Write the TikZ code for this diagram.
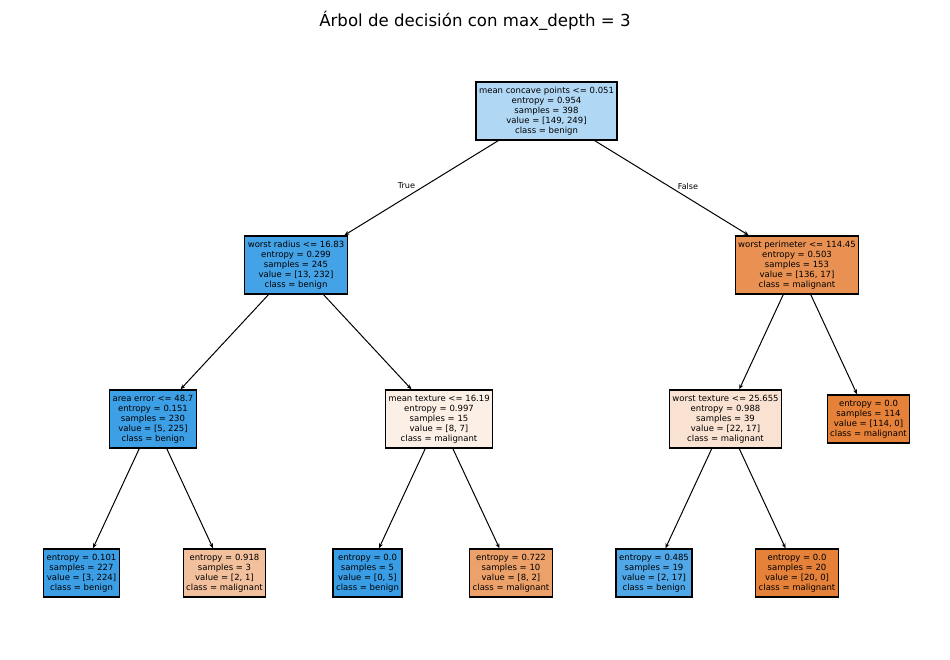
\documentclass[tikz,border=0pt]{standalone}
\usepackage{fontspec}
\setmainfont{DejaVu Sans}
\usetikzlibrary{arrows.meta}
\definecolor{c0}{RGB}{176,216,245}
\definecolor{c1}{RGB}{68,162,230}
\definecolor{c2}{RGB}{232,145,82}
\definecolor{c3}{RGB}{61,159,230}
\definecolor{c4}{RGB}{252,239,230}
\definecolor{c5}{RGB}{249,226,210}
\definecolor{c6}{RGB}{229,129,57}
\definecolor{c7}{RGB}{60,158,229}
\definecolor{c8}{RGB}{242,192,156}
\definecolor{c9}{RGB}{57,157,229}
\definecolor{c10}{RGB}{236,161,107}
\definecolor{c11}{RGB}{80,168,232}
\tikzset{
  tnode/.style={draw=black, line width=1.3pt, align=center, inner xsep=3pt, inner ysep=5pt,
    font=\fontsize{8.5}{10}\selectfont},
  edge/.style={line width=1pt, -{Stealth[length=5pt,width=4pt]}},
  elabel/.style={font=\fontsize{8.1}{10}\selectfont}
}
\begin{document}
\begin{tikzpicture}[x=1pt,y=-1pt]
\useasboundingbox (0,0) rectangle (950,660);
\node[font=\fontsize{16.6}{20}\selectfont] (title) at (475,21) {Árbol de decisión con max\_depth = 3};
\node[tnode, fill=c0] (n0) at (546.5,111) {mean concave points <= 0.051\\entropy = 0.954\\samples = 398\\value = [149, 249]\\class = benign};
\node[tnode, fill=c1] (n1) at (296,265) {worst radius <= 16.83\\entropy = 0.299\\samples = 245\\value = [13, 232]\\class = benign};
\node[tnode, fill=c2] (n2) at (797,265) {worst perimeter <= 114.45\\entropy = 0.503\\samples = 153\\value = [136, 17]\\class = malignant};
\node[tnode, fill=c3] (n3) at (153,419) {area error <= 48.7\\entropy = 0.151\\samples = 230\\value = [5, 225]\\class = benign};
\node[tnode, fill=c4] (n4) at (439,419) {mean texture <= 16.19\\entropy = 0.997\\samples = 15\\value = [8, 7]\\class = malignant};
\node[tnode, fill=c5] (n5) at (725.5,419) {worst texture <= 25.655\\entropy = 0.988\\samples = 39\\value = [22, 17]\\class = malignant};
\node[tnode, fill=c6] (n6) at (868.5,419) {entropy = 0.0\\samples = 114\\value = [114, 0]\\class = malignant};
\node[tnode, fill=c7] (n7) at (81.5,573) {entropy = 0.101\\samples = 227\\value = [3, 224]\\class = benign};
\node[tnode, fill=c8] (n8) at (224.5,573) {entropy = 0.918\\samples = 3\\value = [2, 1]\\class = malignant};
\node[tnode, fill=c9] (n9) at (367.5,573) {entropy = 0.0\\samples = 5\\value = [0, 5]\\class = benign};
\node[tnode, fill=c10] (n10) at (511,573) {entropy = 0.722\\samples = 10\\value = [8, 2]\\class = malignant};
\node[tnode, fill=c11] (n11) at (654,573) {entropy = 0.485\\samples = 19\\value = [2, 17]\\class = benign};
\node[tnode, fill=c6] (n12) at (797,573) {entropy = 0.0\\samples = 20\\value = [20, 0]\\class = malignant};
\draw[edge] (n0) -- (n1);
\draw[edge] (n0) -- (n2);
\draw[edge] (n1) -- (n3);
\draw[edge] (n1) -- (n4);
\draw[edge] (n2) -- (n5);
\draw[edge] (n2) -- (n6);
\draw[edge] (n3) -- (n7);
\draw[edge] (n3) -- (n8);
\draw[edge] (n4) -- (n9);
\draw[edge] (n4) -- (n10);
\draw[edge] (n5) -- (n11);
\draw[edge] (n5) -- (n12);
\node[elabel] (lt) at (406.5,186) {True};
\node[elabel] (lf) at (688,186) {False};
\end{tikzpicture}
\end{document}
